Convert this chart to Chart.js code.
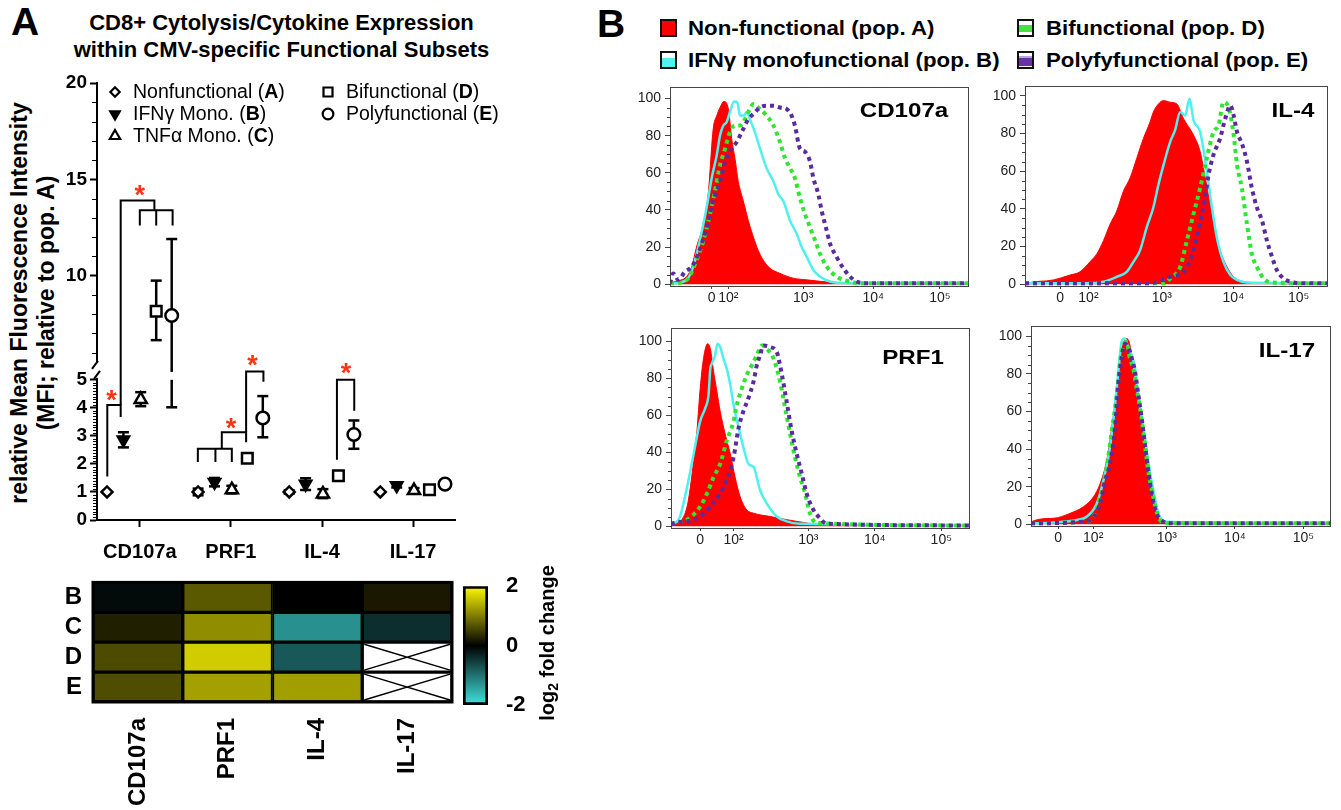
<!DOCTYPE html>
<html>
<head>
<meta charset="utf-8">
<title>CD8+ Cytolysis/Cytokine Expression</title>
<script src="https://cdn.jsdelivr.net/npm/chart.js@4.4.1/dist/chart.umd.min.js"></script>
<style>
  body { margin:0; width:1341px; height:810px; position:relative; overflow:hidden; background:#fff;
         font-family:'Liberation Sans', Arial, Helvetica, sans-serif; color:#000; }
  canvas { position:absolute; }
  .t { position:absolute; white-space:nowrap; font-weight:bold; }
  .sw { position:absolute; width:13px; height:14px; border:2px solid #111; }
  .lab { font-size:21px; line-height:26px; text-align:center; width:140px; transform:scaleX(1.15); }
  .leg { font-size:21px; line-height:24px; transform:scaleX(1.06); transform-origin:left center; }
</style>
</head>
<body>
<div class="t" style="left:11px;top:0px;font-size:39px;line-height:44px;">A</div>
<div class="t" style="left:30px;top:9px;width:503px;text-align:center;font-size:22px;line-height:27px;">CD8+ Cytolysis/Cytokine Expression<br>within CMV-specific Functional Subsets</div>
<div class="t" style="left:-197px;top:276px;width:460px;height:54px;text-align:center;font-size:23px;line-height:27px;transform:rotate(-90deg);">relative Mean Fluorescence Intensity<br>(MFI; relative to pop. A)</div>

<div class="t" style="left:597px;top:2px;font-size:39px;line-height:44px;">B</div>
<div class="sw" style="left:660px;top:19px;background:#ff0000;"></div>
<div class="t leg" style="left:688px;top:16px;">Non-functional (pop. A)</div>
<div class="sw" style="left:660px;top:51px;background:linear-gradient(#fff 0 35%, #4ef4f4 35%);"></div>
<div class="t leg" style="left:688px;top:48px;">IFNγ monofunctional (pop. B)</div>
<div class="sw" style="left:1017px;top:19px;background:linear-gradient(#fff 0 30%, #44e044 30% 80%, #fff 80%);"></div>
<div class="t leg" style="left:1046px;top:16px;">Bifunctional (pop. D)</div>
<div class="sw" style="left:1017px;top:51px;background:linear-gradient(#fff 0 25%, #b9a6d8 25% 35%, #6a32a8 35% 90%, #fff 90%);"></div>
<div class="t leg" style="left:1046px;top:48px;">Polyfyfunctional (pop. E)</div>

<canvas id="cMfi" width="520" height="510" style="left:0px;top:60px;"></canvas>
<canvas id="cHeat" width="440" height="245" style="left:40px;top:565px;"></canvas>
<canvas id="cScale" width="120" height="174" style="left:455px;top:563px;"></canvas>
<canvas id="hCD107a"></canvas>
<canvas id="hIL4"></canvas>
<canvas id="hPRF1"></canvas>
<canvas id="hIL17"></canvas>

<div class="t lab" style="left:834px;top:97px;">CD107a</div>
<div class="t lab" style="left:1223px;top:97px;">IL-4</div>
<div class="t lab" style="left:843px;top:344px;">PRF1</div>
<div class="t lab" style="left:1217px;top:337px;">IL-17</div>

<script>
// ---------- panel A : MFI relative to pop. A ----------
const markers = ['CD107a', 'PRF1', 'IL-4', 'IL-17'];
const popLabel = ['Nonfunctional', 'IFNγ Mono.', 'TNFα Mono.', 'Bifunctional', 'Polyfunctional'];
const popLetter = ['A', 'B', 'C', 'D', 'E'];

const nonfuncMean = [1.0, 1.0, 1.0, 1.0];
const nonfuncLow  = [1.0, 0.88, 0.94, 1.0];
const nonfuncHigh = [1.0, 1.12, 1.06, 1.0];
const ifngMean = [2.86, 1.35, 1.28, 1.23];
const ifngLow  = [2.59, 1.2, 1.07, 1.16];
const ifngHigh = [3.13, 1.5, 1.49, 1.3];
const tnfaMean = [4.3, 1.08, 0.93, 1.05];
const tnfaLow  = [4.06, 0.95, 0.78, 0.96];
const tnfaHigh = [4.56, 1.22, 1.1, 1.14];
const bifuncMean = [8.15, 2.2, 1.58, 1.08];
const bifuncLow  = [6.65, 2.2, 1.58, 1.08];
const bifuncHigh = [9.74, 2.2, 1.58, 1.08];
const polyMean = [7.93, 3.64, 3.05, 1.28];
const polyLow  = [4.02, 2.95, 2.54, 1.28];
const polyHigh = [11.9, 4.42, 3.55, 1.28];

// significance brackets (x = marker index + dodge, y = MFI) and asterisks
const bracketPaths = [
  [[0.643, 1.55], [0.643, 4.1], [0.79, 4.1], [0.79, 3.67]],
  [[0.79, 4.1], [0.79, 13.9], [1.16, 13.9], [1.16, 13.4]],
  [[1.0, 12.6], [1.0, 13.4], [1.36, 13.4], [1.36, 12.6]],
  [[1.18, 13.4], [1.18, 12.6]],
  [[1.637, 2.07], [1.637, 2.54], [2.01, 2.54], [2.01, 2.07]],
  [[1.83, 2.54], [1.83, 2.07]],
  [[1.90, 2.54], [1.90, 3.13], [2.167, 3.13], [2.167, 2.77]],
  [[2.167, 3.13], [2.167, 5.02], [2.357, 5.02], [2.357, 4.93]],
  [[3.164, 2.15], [3.164, 5.0], [3.354, 5.0], [3.354, 3.9]]
];
const starPos = [[0.69, 4.5], [1.0, 14.5], [2.0, 3.5], [2.237, 5.68], [3.263, 5.27]];

// ---------- heat map : log2 fold change vs pop. A ----------
const heatRows = ['B', 'C', 'D', 'E'];
const heatB = [-0.09, 0.71, 0.0, 0.2];
const heatC = [0.25, 1.13, -1.29, -0.41];
const heatD = [0.6, 1.63, -0.79, null];
const heatE = [0.62, 1.28, 1.26, null];

// ---------- panel B : histograms (display channel 0-1000, % of max) ----------
const tickText = ['0', '10²', '10³', '10⁴', '10⁵'];
const cd107aTicks = [140, 196, 447, 682, 906];
const il4Ticks = [116, 210, 453, 690, 906];
const prf1Ticks = [98, 210, 461, 684, 907];
const il17Ticks = [91, 208, 454, 682, 911];

const cd107aA_ch = [0,17,56,73,89,112,129,145,157,168,181,196,207,218,229,246,263,280,296,313,336,369,414,459,526,615,1000];
const cd107aA_y  = [0,1.4,4.1,9.4,20,32.4,50,83.7,90.8,95.2,98.4,94.3,78.4,67.8,55.4,44.8,34.2,25.3,18.2,12.9,8.5,5.8,3.2,2.3,1.2,0.5,0];
const cd107aB_ch = [0,11,56,78,95,112,125,140,157,168,179,190,201,215,226,235,248,257,274,285,302,324,347,364,380,403,425,442,459,481,503,537,593,1000];
const cd107aB_y  = [0.5,0.5,2.3,9.4,20,32.4,43,57.2,69.6,80.2,85.5,87.3,92.6,98.4,97.9,90.8,90.8,92.6,86.4,81.9,73.1,62.5,55.4,48.3,44.8,34.2,27.1,20,14.7,7.6,4.1,1.4,0.5,0.5];
const cd107aD_ch = [0,11,56,89,112,134,151,168,185,201,218,235,252,268,280,302,324,347,369,386,403,419,436,453,470,487,503,526,559,604,638,1000];
const cd107aD_y  = [0.5,0.5,2.3,12.9,23.5,37.7,50.1,64.2,73.1,81.9,85.5,85.5,89,94.3,97,94.3,90.8,85.5,76.6,67.8,62.5,57.2,46.5,37.7,30.6,23.5,16.5,9.4,4.1,1.4,0.5,0.5];
const cd107aE_ch = [0,11,28,50,73,95,123,145,168,185,207,224,246,263,280,302,324,347,369,392,408,419,436,453,470,481,498,509,526,537,559,582,604,626,660,1000];
const cd107aE_y  = [0.5,5.8,2.3,6.7,9.4,16.5,30.6,44.8,55.4,66,73.1,76.6,83.7,89,91.7,95.2,96.1,96.1,95.2,94.3,90.8,85.5,73.1,71.3,66,57.2,48.3,39.5,28.8,21.8,14.7,8.5,4.1,1.4,0.5,0.5];

const il4A_ch = [0,6,94,149,182,215,238,260,282,304,326,348,370,392,414,425,442,459,481,503,525,558,580,597,613,630,646,669,691,724,800,1000];
const il4A_y  = [0,0.5,2.3,4.9,6.6,11.9,16.2,23.2,31.9,38.9,49.4,56.4,66.8,77.3,86,91.3,95.6,97.4,96.5,95.6,87.8,79.1,70.3,56.4,42.4,28.4,18,9.2,4,1.4,0.5,0];
const il4B_ch = [0,204,260,304,337,359,381,403,425,442,459,481,497,514,530,545,558,580,602,619,635,657,680,702,735,1000];
const il4B_y  = [0.5,0.5,1.4,4,6.6,11.9,18,30.2,40.7,52.9,63.4,75.6,81.7,91.3,89.5,98.3,86.9,80.8,59.9,40.7,25,11.9,4.9,2.3,0.9,0.5];
const il4D_ch = [0,459,481,514,536,558,580,602,624,641,657,674,691,702,718,735,751,768,790,823,1000];
const il4D_y  = [0.5,0.5,3.1,9.2,23.2,37.2,51.1,66.8,80.8,84.3,96.5,93.9,79.1,63.4,51.1,31.9,16.2,9.2,3.1,0.9,0.5];
const il4E_ch = [0,414,481,525,547,569,591,608,624,646,663,680,691,702,718,735,751,768,785,801,818,834,856,878,912,1000];
const il4E_y  = [0.5,0.5,4,6.6,12.7,25,40.7,58.1,68.6,77.3,87.8,94.8,89.5,80.8,74.7,65.1,51.1,40.7,33.7,23.2,14.5,7.5,3.1,1.4,0.5,0.5];

const prf1A_ch = [0,3,31,54,65,76,87,98,109,123,132,143,154,165,182,199,215,232,254,277,333,388,444,500,991,1000];
const prf1A_y  = [0,0.9,2.7,10.7,21.3,35.5,51.5,74.6,90.6,98.6,95.9,83.5,72.8,62.2,49.7,39.1,26.6,16,8.9,7.1,5.3,3.6,2.1,0.9,0.4,0];
const prf1B_ch = [0,3,26,54,76,98,115,126,132,137,148,156,165,176,187,199,210,227,243,260,277,299,321,355,388,433,1000];
const prf1B_y  = [1,1.4,3.6,21.3,39.1,56.8,63.9,71,85.3,87.9,92.4,98.6,96.8,90.6,85.3,76.4,65.7,53.3,42.6,33.7,32,19.5,12.4,5.3,2.7,1.4,0.5];
const prf1D_ch = [0,3,54,98,121,143,165,187,210,221,238,254,271,288,305,321,344,366,383,400,416,433,450,466,489,1000];
const prf1D_y  = [1,1.4,3.6,10.7,17.8,26.6,33.7,46.2,56.8,65.7,74.6,81.7,87,92.4,97.7,95.9,90.6,78.2,63.9,49.7,37.3,26.6,17.8,7.1,1.8,0.5];
const prf1E_ch = [0,3,54,98,132,165,187,210,227,243,260,277,288,299,310,333,355,366,388,405,422,439,455,478,500,522,1000];
const prf1E_y  = [1,1.4,2.7,5.3,10.7,17.8,24.9,37.3,53.3,62.2,69.3,78.2,87,92.4,97.7,96.8,94.1,87,67.5,51.5,39.1,28.4,17.8,8.9,4.4,1.4,0.5];

const il17A_ch = [0,2,75,130,175,209,231,253,270,287,298,311,320,331,342,353,365,376,387,404,415,431,454,1000];
const il17A_y  = [0,1.4,3.2,5.8,9.3,14.6,21.6,33.9,51.4,72.5,90,97,98.8,95.3,81.2,72.5,63.7,49.6,33.9,19.8,9.3,2.3,0.5,0];
const il17B_ch = [0,2,108,153,186,220,242,264,281,292,303,314,326,337,348,359,376,392,409,426,454,1000];
const il17B_y  = [0.5,0.5,1.4,2.3,4,11.1,23.3,40.9,63.7,81.2,97,98.8,93.5,90,83,67.2,51.4,33.9,18.1,5.8,1.4,0.5];
const il17D_ch = [0,175,209,231,253,270,287,298,309,320,331,342,353,365,381,392,409,426,454,1000];
const il17D_y  = [0.5,1.4,4,14.6,30.4,49.6,68.9,86.5,95.3,97,88.2,83,72.5,61.9,42.6,28.6,14.6,4,0.5,0.5];
const il17E_ch = [0,175,209,231,248,264,281,292,303,314,326,337,348,359,370,381,392,404,420,443,465,1000];
const il17E_y  = [0.5,1.4,4,11.1,23.3,32.1,51.4,74.2,88.2,96.1,94.4,88.2,81.2,68.9,56.7,42.6,28.6,16.3,5.8,1.4,0.5,0.5];

Chart.defaults.font.family = "'Liberation Sans', Arial, Helvetica, sans-serif";
Chart.defaults.color = '#000';

const BREAK = 5;
const popOffset = [-0.36, -0.18, 0.01, 0.18, 0.35];
const pops = [
  { mean: nonfuncMean, low: nonfuncLow, high: nonfuncHigh, style: 'rectRot', r: 5.5, rot: 0, fill: '#fff' },
  { mean: ifngMean, low: ifngLow, high: ifngHigh, style: 'triangle', r: 6.5, rot: 180, fill: '#000' },
  { mean: tnfaMean, low: tnfaLow, high: tnfaHigh, style: 'triangle', r: 7, rot: 0, fill: '#fff' },
  { mean: bifuncMean, low: bifuncLow, high: bifuncHigh, style: 'rect', r: 7.5, rot: 0, fill: '#fff' },
  { mean: polyMean, low: polyLow, high: polyHigh, style: 'circle', r: 6.3, rot: 0, fill: '#fff' }
];

// values above the axis break go on the upper y scale
const mfiDatasets = [];
pops.forEach((p, pi) => {
  ['yLow', 'yHigh'].forEach(axis => {
    const pts = [];
    p.mean.forEach((m, gi) => {
      if ((axis === 'yHigh') === (m > BREAK)) pts.push({ x: gi + 1 + popOffset[pi], y: m });
    });
    mfiDatasets.push({
      label: popLabel[pi], data: pts, yAxisID: axis,
      pointStyle: p.style, pointRadius: p.r, pointRotation: p.rot,
      pointBackgroundColor: p.fill, pointBorderColor: '#000', pointBorderWidth: 2.5
    });
  });
});

function yPix(chart, v) {
  return v > BREAK ? chart.scales.yHigh.getPixelForValue(v) : chart.scales.yLow.getPixelForValue(v);
}

function vLine(ctx, chart, x, a, b) {
  const parts = [];
  if (b <= BREAK) parts.push(['yLow', a, b]);
  else if (a >= BREAK) parts.push(['yHigh', a, b]);
  else { parts.push(['yLow', a, BREAK]); parts.push(['yHigh', BREAK, b]); }
  parts.forEach(([ax, lo, hi]) => {
    const s = chart.scales[ax];
    ctx.beginPath();
    ctx.moveTo(x, s.getPixelForValue(lo));
    ctx.lineTo(x, s.getPixelForValue(hi));
    ctx.stroke();
  });
}

const mfiExtras = {
  id: 'mfiExtras',
  beforeDatasetsDraw(chart) {
    const ctx = chart.ctx, xs = chart.scales.x;
    ctx.save();
    ctx.strokeStyle = '#000';
    ctx.lineWidth = 2.5;
    pops.forEach((p, pi) => {
      p.mean.forEach((m, gi) => {
        const lo = p.low[gi], hi = p.high[gi];
        if (hi - lo < 0.01) return;
        const x = xs.getPixelForValue(gi + 1 + popOffset[pi]);
        vLine(ctx, chart, x, lo, hi);
        [lo, hi].forEach(v => {
          const y = yPix(chart, v);
          ctx.beginPath(); ctx.moveTo(x - 5.5, y); ctx.lineTo(x + 5.5, y); ctx.stroke();
        });
      });
    });
    ctx.restore();
  },
  afterDraw(chart) {
    const ctx = chart.ctx, xs = chart.scales.x, lo = chart.scales.yLow, hi = chart.scales.yHigh;
    const ax = chart.chartArea.left;
    ctx.save();
    // minor ticks
    ctx.strokeStyle = '#000';
    ctx.lineWidth = 1;
    for (let v = 0.1; v < 5; v += 0.1) {
      if (Math.abs(v - Math.round(v)) < 0.01) continue;
      const y = Math.round(lo.getPixelForValue(v)) + 0.5;
      ctx.beginPath(); ctx.moveTo(ax - 4, y); ctx.lineTo(ax, y); ctx.stroke();
    }
    for (let v = 6; v < 20; v++) {
      if (v % 5 === 0) continue;
      const y = Math.round(hi.getPixelForValue(v)) + 0.5;
      ctx.beginPath(); ctx.moveTo(ax - 5, y); ctx.lineTo(ax, y); ctx.stroke();
    }
    // axis break
    const yb = lo.top;
    ctx.fillStyle = '#fff';
    ctx.fillRect(ax - 3, yb - 17, 6, 15);
    ctx.lineWidth = 2;
    ctx.beginPath(); ctx.moveTo(ax + 1, yb - 19); ctx.lineTo(ax - 5, yb - 11); ctx.stroke();
    ctx.beginPath(); ctx.moveTo(ax + 3, yb - 9); ctx.lineTo(ax - 3, yb - 1); ctx.stroke();
    // brackets
    ctx.lineWidth = 2;
    bracketPaths.forEach(path => {
      ctx.beginPath();
      path.forEach(([x, y], i) => {
        const px = xs.getPixelForValue(x), py = yPix(chart, y);
        if (i === 0) ctx.moveTo(px, py); else ctx.lineTo(px, py);
      });
      ctx.stroke();
    });
    ctx.fillStyle = '#ff3311';
    ctx.font = "bold 27px 'Liberation Sans', Arial, sans-serif";
    ctx.textAlign = 'center';
    ctx.textBaseline = 'alphabetic';
    starPos.forEach(([x, y]) => ctx.fillText('*', xs.getPixelForValue(x), yPix(chart, y) + 15));
    // legend
    const legPos = [[115, 32], [115, 54], [115, 76], [328, 32], [328, 54]];
    const fs = 19.5;
    ctx.textAlign = 'left';
    ctx.textBaseline = 'middle';
    pops.forEach((p, pi) => {
      const [lx, ly] = legPos[pi];
      ctx.fillStyle = p.fill;
      ctx.strokeStyle = '#000';
      ctx.lineWidth = 2.2;
      Chart.helpers.drawPoint(ctx, { pointStyle: p.style, radius: p.r * 0.85, rotation: p.rot, borderWidth: 2.2 }, lx, ly);
      ctx.fillStyle = '#000';
      let tx = lx + 18;
      ctx.font = fs + "px 'Liberation Sans', Arial, sans-serif";
      const t1 = popLabel[pi] + ' (';
      ctx.fillText(t1, tx, ly + 1); tx += ctx.measureText(t1).width;
      ctx.font = "bold " + fs + "px 'Liberation Sans', Arial, sans-serif";
      ctx.fillText(popLetter[pi], tx, ly + 1); tx += ctx.measureText(popLetter[pi]).width;
      ctx.font = fs + "px 'Liberation Sans', Arial, sans-serif";
      ctx.fillText(')', tx, ly + 1);
    });
    ctx.restore();
  }
};

const axisBold = (size) => ({ size: size, weight: 'bold' });

new Chart(document.getElementById('cMfi'), {
  type: 'scatter',
  data: { datasets: mfiDatasets },
  options: {
    responsive: false, animation: false, events: [],
    layout: { padding: { top: 23, right: 65, left: 0, bottom: 0 } },
    plugins: { legend: { display: false }, tooltip: { enabled: false } },
    scales: {
      x: {
        type: 'linear', min: 0.53, max: 4.46,
        afterBuildTicks: s => { s.ticks = markers.map((m, i) => ({ value: i + 1 })); },
        ticks: { callback: (v, i) => markers[i], font: axisBold(20), color: '#000', padding: 13, maxRotation: 0, autoSkip: false },
        grid: { drawOnChartArea: false, tickLength: 7, tickWidth: 2, tickColor: '#000' },
        border: { color: '#000', width: 2 },
        afterFit: s => { s.height = 50; }
      },
      yLow: {
        type: 'linear', position: 'left', stack: 'mfi', stackWeight: 140.5, min: 0, max: 5,
        afterBuildTicks: s => { s.ticks = [0, 1, 2, 3, 4, 5].map(v => ({ value: v })); },
        ticks: { font: axisBold(19), color: '#000', padding: 3, autoSkip: false },
        grid: { drawOnChartArea: false, tickLength: 7, tickWidth: 2, tickColor: '#000' },
        border: { color: '#000', width: 2 },
        afterFit: s => { s.width = 97; }
      },
      yHigh: {
        type: 'linear', position: 'left', stack: 'mfi', stackWeight: 297.5, min: 4.59, max: 20,
        afterBuildTicks: s => { s.ticks = [10, 15, 20].map(v => ({ value: v })); },
        ticks: { font: axisBold(19), color: '#000', padding: 3, autoSkip: false },
        grid: { drawOnChartArea: false, tickLength: 7, tickWidth: 2, tickColor: '#000' },
        border: { color: '#000', width: 2 },
        afterFit: s => { s.width = 97; }
      }
    }
  },
  plugins: [mfiExtras]
});

// ---------- heat map ----------
function foldColor(v) {
  if (v === null) return '#ffffff';
  const t = Math.min(Math.abs(v) / 2, 1);
  if (v >= 0) return `rgb(${Math.round(255 * t)},${Math.round(250 * t)},0)`;
  return `rgb(${Math.round(64 * t)},${Math.round(224 * t)},${Math.round(224 * t)})`;
}

const heatByRow = { B: heatB, C: heatC, D: heatD, E: heatE };
const heatDatasets = ['E', 'D', 'C', 'B'].map(r => ({
  label: r,
  data: heatByRow[r].map(() => 1),
  fold: heatByRow[r],
  backgroundColor: heatByRow[r].map(foldColor),
  borderColor: '#000', borderWidth: 2, borderSkipped: false,
  barPercentage: 1, categoryPercentage: 1
}));

const heatExtras = {
  id: 'heatExtras',
  afterDatasetsDraw(chart) {
    const ctx = chart.ctx;
    ctx.save();
    ctx.strokeStyle = '#000';
    ctx.lineWidth = 1.5;
    chart.data.datasets.forEach((ds, di) => {
      const meta = chart.getDatasetMeta(di);
      ds.fold.forEach((v, i) => {
        if (v !== null) return;
        const el = meta.data[i];
        const p = el.getProps(['x', 'y', 'base', 'width'], true);
        const l = p.x - p.width / 2 + 2, r = p.x + p.width / 2 - 2, t = p.y + 2, b = p.base - 2;
        ctx.beginPath(); ctx.moveTo(l, t); ctx.lineTo(r, b); ctx.moveTo(l, b); ctx.lineTo(r, t); ctx.stroke();
      });
    });
    const a = chart.chartArea;
    ctx.lineWidth = 3;
    ctx.strokeRect(a.left, a.top, a.right - a.left, a.bottom - a.top);
    ctx.restore();
  }
};

new Chart(document.getElementById('cHeat'), {
  type: 'bar',
  data: { labels: markers, datasets: heatDatasets },
  options: {
    responsive: false, animation: false, events: [],
    layout: { padding: { top: 10, right: 28, left: 0, bottom: 0 } },
    plugins: { legend: { display: false }, tooltip: { enabled: false } },
    scales: {
      x: {
        stacked: true,
        ticks: { font: axisBold(24), color: '#000', minRotation: 90, maxRotation: 90, padding: 8, autoSkip: false },
        grid: { display: false }, border: { display: false },
        afterFit: s => { s.height = 108; }
      },
      y: {
        stacked: true, min: 0, max: 4,
        afterBuildTicks: s => { s.ticks = [0.5, 1.5, 2.5, 3.5].map(v => ({ value: v })); },
        ticks: { callback: v => heatRows[3 - Math.floor(v)], font: axisBold(24), color: '#000', padding: 3, autoSkip: false },
        grid: { display: false }, border: { display: false },
        afterFit: s => { s.width = 53; }
      }
    }
  },
  plugins: [heatExtras]
});

// ---------- colour scale ----------
const scaleTitle = {
  id: 'scaleTitle',
  afterDraw(chart) {
    const ctx = chart.ctx;
    ctx.save();
    ctx.translate(93, 80);
    ctx.rotate(-Math.PI / 2);
    ctx.fillStyle = '#000';
    ctx.textBaseline = 'middle';
    const big = "bold 20px 'Liberation Sans', Arial, sans-serif";
    const small = "bold 14px 'Liberation Sans', Arial, sans-serif";
    ctx.font = big; const w1 = ctx.measureText('log').width, w3 = ctx.measureText(' fold change').width;
    ctx.font = small; const w2 = ctx.measureText('2').width;
    let x = -(w1 + w2 + w3) / 2;
    ctx.font = big; ctx.fillText('log', x, 0); x += w1;
    ctx.font = small; ctx.fillText('2', x, 6); x += w2;
    ctx.font = big; ctx.fillText(' fold change', x, 0);
    ctx.restore();
  }
};

new Chart(document.getElementById('cScale'), {
  type: 'bar',
  data: {
    labels: [''],
    datasets: [{
      data: [[-2, 2]],
      backgroundColor: c => {
        const a = c.chart.chartArea;
        if (!a) return '#000';
        const g = c.chart.ctx.createLinearGradient(0, a.bottom, 0, a.top);
        g.addColorStop(0, 'rgb(64,228,224)');
        g.addColorStop(0.5, '#000');
        g.addColorStop(1, 'rgb(255,250,0)');
        return g;
      },
      borderColor: '#000', borderWidth: 3, borderSkipped: false,
      barPercentage: 1, categoryPercentage: 1
    }]
  },
  options: {
    responsive: false, animation: false, events: [],
    layout: { padding: { top: 14, right: 0, left: 8, bottom: 32 } },
    plugins: { legend: { display: false }, tooltip: { enabled: false } },
    scales: {
      x: { display: false },
      y: {
        position: 'right', min: -2, max: 2,
        afterBuildTicks: s => { s.ticks = [-2, 0, 2].map(v => ({ value: v })); },
        ticks: { font: axisBold(22), color: '#000', padding: 10, autoSkip: false },
        grid: { display: false }, border: { display: false },
        afterFit: s => { s.width = 87; }
      }
    }
  },
  plugins: [scaleTitle]
});

// ---------- histograms ----------
const zip = (ch, y) => ch.map((c, i) => ({ x: c, y: y[i] }));

const histFrame = {
  id: 'histFrame',
  afterDraw(chart) {
    const ctx = chart.ctx, a = chart.chartArea, ys = chart.scales.y;
    ctx.save();
    ctx.strokeStyle = '#444';
    ctx.lineWidth = 1;
    ctx.strokeRect(Math.round(a.left) + 0.5, Math.round(a.top) + 0.5, Math.round(a.right - a.left), Math.round(a.bottom - a.top));
    for (let v = 5; v < 100; v += 5) {
      if (v % 20 === 0) continue;
      const y = Math.round(ys.getPixelForValue(v)) + 0.5;
      ctx.beginPath(); ctx.moveTo(a.left - 3, y); ctx.lineTo(a.left, y); ctx.stroke();
    }
    ctx.restore();
  }
};

function histChart(id, box, tickCh, yMin, yMax, A, B, D, E) {
  const cv = document.getElementById(id);
  cv.width = box.r - box.l + 58;
  cv.height = box.b - box.t + 36;
  cv.style.left = (box.l - 50) + 'px';
  cv.style.top = (box.t - 10) + 'px';
  const line = { pointRadius: 0, fill: false, cubicInterpolationMode: 'monotone' };
  return new Chart(cv, {
    type: 'line',
    data: {
      datasets: [
        Object.assign({}, line, { label: 'pop. A', data: zip(A[0], A[1]), borderColor: '#ff0000', backgroundColor: '#ff0000', borderWidth: 1, fill: 'origin', order: 4 }),
        Object.assign({}, line, { label: 'pop. B', data: zip(B[0], B[1]), borderColor: '#4ef0f0', borderWidth: 2.5, order: 3 }),
        Object.assign({}, line, { label: 'pop. D', data: zip(D[0], D[1]), borderColor: '#2ee62e', borderWidth: 4, borderDash: [4, 4], order: 2 }),
        Object.assign({}, line, { label: 'pop. E', data: zip(E[0], E[1]), borderColor: '#5b2a9e', borderWidth: 4, borderDash: [4, 4], order: 1 })
      ]
    },
    options: {
      responsive: false, animation: false, events: [],
      layout: { padding: { top: 10, right: 8, left: 0, bottom: 0 } },
      plugins: { legend: { display: false }, tooltip: { enabled: false } },
      scales: {
        x: {
          type: 'linear', min: 0, max: 1000,
          afterBuildTicks: s => { s.ticks = tickCh.map(v => ({ value: v })); },
          ticks: { callback: (v, i) => tickText[i], font: { size: 14 }, color: '#222', padding: 1, maxRotation: 0, autoSkip: false },
          grid: { drawOnChartArea: false, tickLength: 3, tickColor: '#444' },
          border: { display: false },
          afterFit: s => { s.height = 26; }
        },
        y: {
          min: yMin, max: yMax,
          afterBuildTicks: s => { s.ticks = [0, 20, 40, 60, 80, 100].map(v => ({ value: v })); },
          ticks: { font: { size: 14 }, color: '#222', padding: 4, autoSkip: false },
          grid: { drawOnChartArea: false, tickLength: 5, tickColor: '#444' },
          border: { display: false },
          afterFit: s => { s.width = 50; }
        }
      }
    },
    plugins: [histFrame]
  });
}

histChart('hCD107a', { l: 670, r: 968, t: 85, b: 286 }, cd107aTicks, -1, 106,
  [cd107aA_ch, cd107aA_y], [cd107aB_ch, cd107aB_y], [cd107aD_ch, cd107aD_y], [cd107aE_ch, cd107aE_y]);
histChart('hIL4', { l: 1025, r: 1327, t: 84, b: 286 }, il4Ticks, -0.9, 104.9,
  [il4A_ch, il4A_y], [il4B_ch, il4B_y], [il4D_ch, il4D_y], [il4E_ch, il4E_y]);
histChart('hPRF1', { l: 671, r: 969, t: 326, b: 528 }, prf1Ticks, -0.9, 106.9,
  [prf1A_ch, prf1A_y], [prf1B_ch, prf1B_y], [prf1D_ch, prf1D_y], [prf1E_ch, prf1E_y]);
histChart('hIL17', { l: 1031, r: 1330, t: 324, b: 526 }, il17Ticks, -0.9, 105.3,
  [il17A_ch, il17A_y], [il17B_ch, il17B_y], [il17D_ch, il17D_y], [il17E_ch, il17E_y]);
</script>
</body>
</html>
